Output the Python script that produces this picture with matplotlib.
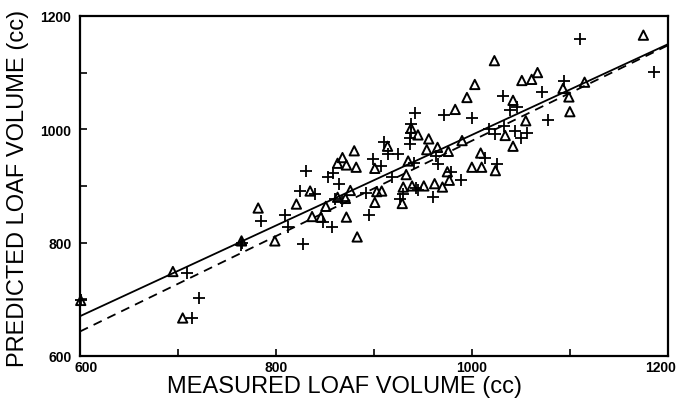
import matplotlib
matplotlib.use("Agg")
from matplotlib import pyplot as plt
import matplotlib.transforms as mtransforms
import numpy as np

tri_x = [1175, 1023, 1067, 1061, 1051, 1003, 995, 983, 1042, 1115, 1093, 1099, 1100,
         1055, 1034, 1042, 990, 1009, 1000, 1010, 1024, 945, 938, 956, 954, 965, 976,
         935, 933, 930, 939, 951, 962, 970, 977, 975, 929, 908, 903, 901, 901, 914,
         882, 880, 872, 868, 863, 876, 871, 863, 872, 883, 851, 846, 837, 835, 821,
         782, 799, 765, 695, 705, 601]
tri_y = [1166, 1121, 1100, 1088, 1086, 1079, 1056, 1035, 1051, 1083, 1072, 1057, 1031,
         1015, 989, 970, 980, 958, 933, 933, 927, 990, 1002, 983, 964, 968, 961,
         944, 920, 898, 900, 900, 904, 898, 910, 925, 869, 891, 890, 871, 931, 970,
         933, 962, 937, 950, 940, 892, 878, 880, 845, 810, 864, 845, 846, 891, 868,
         861, 803, 803, 749, 667, 698]

plus_x = [1110, 1186, 1094, 1072, 1032, 1039, 1046, 1078, 1000, 972, 942, 938, 938,
          937, 937, 1017, 1024, 1033, 1044, 1056, 1050, 1013, 1026, 989, 960, 945,
          941, 965, 963, 925, 914, 910, 907, 899, 892, 895, 919, 930, 927, 864, 858,
          853, 860, 868, 857, 848, 840, 825, 831, 809, 812, 828, 785, 764, 709, 722,
          714, 601, 765, 943, 979]
plus_y = [1159, 1101, 1085, 1066, 1059, 1034, 1040, 1017, 1019, 1026, 1028, 1009, 993,
          985, 974, 1000, 991, 1005, 997, 993, 985, 950, 939, 910, 880, 892,
          941, 938, 952, 957, 957, 978, 935, 948, 888, 849, 915, 885, 877, 903, 922,
          915, 877, 874, 827, 836, 886, 891, 927, 848, 827, 798, 838, 796, 747, 702,
          667, 698, 800, 897, 925]

# rectas de ajuste (extremos en x = 600 y 1200)
linea_x = [600, 1200]
solida_y = [670, 1150]
discontinua_y = [643, 1148]

fuente = ['Liberation Sans', 'DejaVu Sans']

fig = plt.figure(figsize=(6.76, 4.02), dpi=100)
ax = fig.add_axes([0.118, 0.112, 0.870, 0.846])

ax.plot(linea_x, solida_y, color='black', linewidth=1.3)
ax.plot(linea_x, discontinua_y, color='black', linewidth=1.3, linestyle=(0, (5, 3.5)))

ax.scatter(tri_x, tri_y, marker='^', s=45, facecolors='none', edgecolors='black',
           linewidths=1.4, clip_on=False, zorder=3)
ax.scatter(plus_x, plus_y, marker='+', s=70, color='black', linewidths=1.3,
           clip_on=False, zorder=3)

ax.set_xlim(600, 1200)
ax.set_ylim(600, 1200)
ax.set_xticks([600, 800, 1000, 1200])
ax.set_yticks([600, 800, 1000, 1200])
ax.set_xticks([700, 900, 1100], minor=True)
ax.set_yticks([700, 900, 1100], minor=True)
ax.tick_params(which='both', direction='in', length=5, width=1.2)
ax.tick_params(axis='x', pad=3)
ax.tick_params(axis='y', pad=6)
for lbl in ax.get_xticklabels() + ax.get_yticklabels():
    lbl.set_fontsize(10)
    lbl.set_fontweight('bold')
    lbl.set_family(fuente)

# el 1200 del eje x queda pegado al borde derecho, el 600 algo corrido a la derecha
xlbls = ax.get_xticklabels()
ult = xlbls[-1]
ult.set_horizontalalignment('right')
ult.set_transform(ult.get_transform() + mtransforms.ScaledTranslation(0.08, 0, fig.dpi_scale_trans))
pri = xlbls[0]
pri.set_transform(pri.get_transform() + mtransforms.ScaledTranslation(0.06, 0, fig.dpi_scale_trans))

for s in ax.spines.values():
    s.set_linewidth(1.6)

# titulos de los ejes puestos a mano, como en la figura original
fig.text(0.509, 0.022, 'MEASURED LOAF VOLUME (cc)', fontsize=17, family=fuente,
         ha='center', va='baseline')
fig.text(0.027, 0.532, 'PREDICTED LOAF VOLUME (cc)', fontsize=17, family=fuente,
         ha='center', va='center', rotation=90)

fig.savefig('out.png', dpi=100)
